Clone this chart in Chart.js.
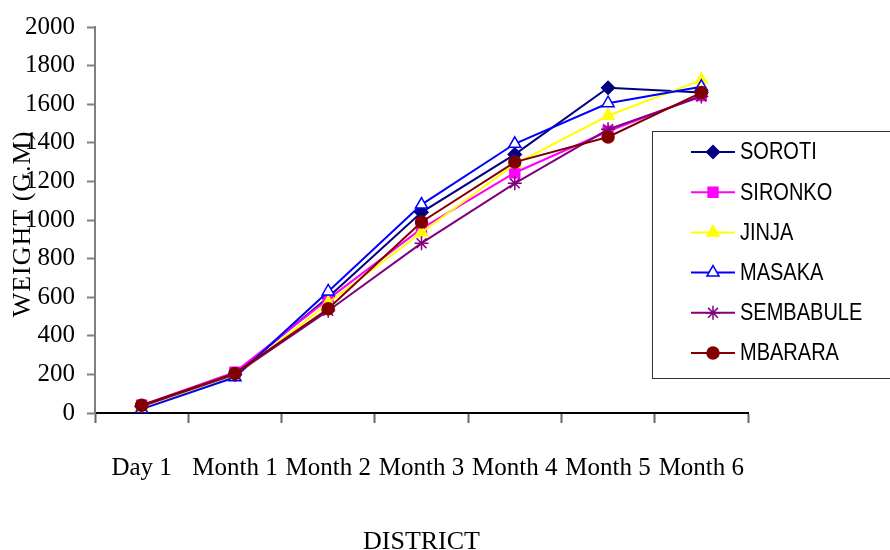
<!DOCTYPE html>
<html>
<head>
<meta charset="utf-8">
<script src="https://cdn.jsdelivr.net/npm/chart.js@4.4.0/dist/chart.umd.min.js"></script>
<style>
html, body { margin: 0; padding: 0; background: #fff; }
#wrap { width: 890px; height: 550px; }
</style>
</head>
<body>
<div id="wrap"><canvas id="myChart" width="890" height="550"></canvas></div>
<script>
// chart data
const labels = ['Day 1', 'Month 1', 'Month 2', 'Month 3', 'Month 4', 'Month 5', 'Month 6'];
const districts = ['SOROTI', 'SIRONKO', 'JINJA', 'MASAKA', 'SEMBABULE', 'MBARARA'];
const soroti = [35, 200, 600, 1040, 1340, 1685, 1660];
const sironko = [40, 212, 590, 955, 1245, 1460, 1645];
const jinja = [30, 190, 570, 935, 1290, 1540, 1725];
const masaka = [20, 185, 630, 1080, 1395, 1605, 1690];
const sembabule = [35, 200, 530, 880, 1190, 1470, 1640];
const mbarara = [40, 205, 540, 990, 1300, 1430, 1660];
const yMin = 0, yMax = 2000, yStep = 200;

const values = [soroti, sironko, jinja, masaka, sembabule, mbarara];
const colors = ['#000080', '#ff00ff', '#ffff00', '#0000ff', '#800080', '#800000'];
const fills = ['#000080', '#ff00ff', '#ffff00', '#ffffff', '#800080', '#800000'];
const styles = ['rectRot', 'rect', 'triangle', 'triangle', 'star', 'circle'];
const radii = [6.5, 7, 7, 7, 7, 6];

Chart.defaults.font.family = '"Liberation Serif", "Times New Roman", serif';
Chart.defaults.color = '#000';

const datasets = districts.map((name, i) => ({
    label: name,
    data: values[i],
    borderColor: colors[i],
    backgroundColor: fills[i],
    borderWidth: 2,
    pointStyle: styles[i],
    pointRadius: radii[i],
    pointBackgroundColor: fills[i],
    pointBorderColor: colors[i],
    pointBorderWidth: 1.5,
    tension: 0,
    order: districts.length - i
}));

// y axis title sits over the tick labels, so draw it by hand
const yTitle = {
    id: 'yTitle',
    afterDraw(chart) {
        const ctx = chart.ctx;
        ctx.save();
        ctx.translate(23, 224);
        ctx.rotate(-Math.PI / 2);
        ctx.font = '26px "Liberation Serif"';
        ctx.letterSpacing = '1px';
        ctx.fillStyle = '#000';
        ctx.textAlign = 'center';
        ctx.textBaseline = 'middle';
        ctx.fillText('WEIGHT (G.M)', 0, 0);
        ctx.restore();
    }
};

const legendBox = {
    id: 'legendBox',
    afterDraw(chart) {
        const ctx = chart.ctx;
        ctx.save();
        ctx.fillStyle = '#fff';
        ctx.fillRect(652.5, 131.5, 245, 247);
        ctx.strokeStyle = '#333';
        ctx.lineWidth = 1;
        ctx.strokeRect(652.5, 131.5, 245, 247);
        chart.data.datasets.forEach((ds, i) => {
            const y = 152 + i * 40.2;
            ctx.strokeStyle = ds.borderColor;
            ctx.lineWidth = 2;
            ctx.beginPath();
            ctx.moveTo(691, y);
            ctx.lineTo(735, y);
            ctx.stroke();
            ctx.fillStyle = ds.pointBackgroundColor;
            ctx.strokeStyle = ds.pointBorderColor;
            ctx.lineWidth = ds.pointBorderWidth;
            Chart.helpers.drawPoint(ctx, {
                pointStyle: ds.pointStyle,
                radius: ds.pointRadius,
                rotation: 0,
                borderWidth: ds.pointBorderWidth
            }, 713, y);
            // condensed sans text like the original
            ctx.save();
            ctx.translate(740, y + 1);
            ctx.scale(0.87, 1);
            ctx.fillStyle = '#000';
            ctx.font = '23px "Liberation Sans"';
            ctx.textBaseline = 'middle';
            ctx.fillText(ds.label, 0, 0);
            ctx.restore();
        });
        ctx.restore();
    }
};

const ctx = document.getElementById('myChart');
const myChart = new Chart(ctx, {
    type: 'line',
    data: { labels: labels, datasets: datasets },
    options: {
        responsive: false,
        animation: false,
        layout: { padding: { left: 0, right: 142, top: 24, bottom: 0 } },
        plugins: {
            legend: { display: false },
            tooltip: { enabled: false }
        },
        scales: {
            x: {
                offset: true,
                afterFit: scale => { scale.height = 137; },
                grid: {
                    offset: true,
                    drawOnChartArea: false,
                    drawTicks: true,
                    tickLength: 10,
                    tickColor: '#666',
                    tickWidth: 2
                },
                border: { color: '#000', width: 2 },
                ticks: { font: { size: 25 }, padding: 30, maxRotation: 0, autoSkip: false },
                title: {
                    display: true,
                    text: 'DISTRICT',
                    font: { size: 26, lineHeight: 0.6 },
                    padding: { top: 0, bottom: 0 }
                }
            },
            y: {
                min: yMin,
                max: yMax,
                afterFit: scale => { scale.width = 95; },
                grid: {
                    drawOnChartArea: false,
                    drawTicks: true,
                    tickLength: 8,
                    tickColor: '#808080',
                    tickWidth: 2
                },
                border: { color: '#808080', width: 2 },
                ticks: {
                    stepSize: yStep,
                    font: { size: 25 },
                    padding: 12,
                    callback: value => String(value)
                }
            }
        }
    },
    plugins: [yTitle, legendBox]
});
</script>
</body>
</html>
